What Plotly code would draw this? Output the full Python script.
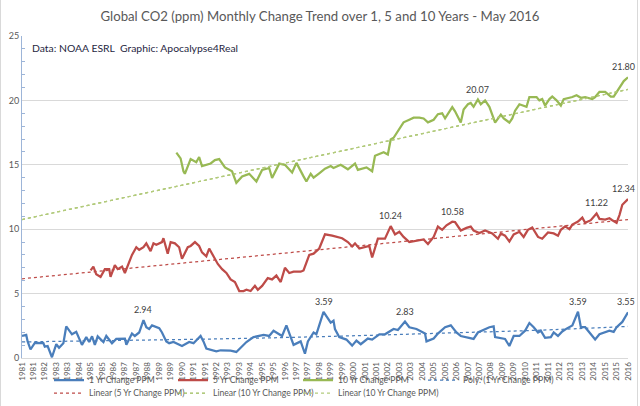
import pandas as pd
import plotly.graph_objects as go

# 1 Yr change (ppm)
one_yr_dates = ["1981-01", "1981-04", "1981-05", "1981-07", "1981-10", "1982-04", "1982-05", "1982-07",
                "1982-10", "1983-01", "1983-03", "1983-06", "1983-08", "1983-12", "1984-03", "1984-07",
                "1984-10", "1984-12", "1985-02", "1985-04", "1985-06", "1985-10", "1985-12", "1986-04",
                "1986-07", "1987-01", "1987-02", "1987-06", "1987-08", "1987-11", "1988-02", "1988-04",
                "1988-06", "1988-08", "1989-01", "1989-03", "1989-06", "1989-08", "1989-11", "1990-05",
                "1990-10", "1991-01", "1991-06", "1991-08", "1991-10", "1992-05", "1992-08", "1993-03",
                "1993-07", "1993-11", "1994-02", "1994-07", "1995-02", "1995-06", "1995-09", "1996-03",
                "1996-06", "1996-11", "1997-04", "1997-07", "1997-09", "1998-01", "1998-03", "1998-05",
                "1998-08", "1999-01", "1999-03", "1999-04", "1999-07", "1999-12", "2000-04", "2000-07",
                "2000-10", "2001-03", "2001-06", "2001-11", "2002-03", "2002-09", "2002-12", "2003-05",
                "2003-08", "2004-01", "2004-07", "2004-08", "2005-01", "2005-04", "2005-09", "2006-01",
                "2006-05", "2006-08", "2007-03", "2007-05", "2007-08", "2008-01", "2008-04", "2008-07",
                "2008-08", "2009-03", "2009-06", "2009-09", "2010-01", "2010-05", "2010-08", "2010-11",
                "2011-02", "2011-04", "2011-07", "2011-11", "2012-01", "2012-04", "2012-07", "2012-10",
                "2013-02", "2013-06", "2013-08", "2013-11", "2014-03", "2014-06", "2014-09", "2015-01",
                "2015-04", "2015-07", "2015-09", "2016-01", "2016-04", "2016-05"]
one_yr_ppm = [1.71, 1.79, 1.29, 0.66, 1.18, 1.15, 0.88, 0.93,
              0.06, 1.07, 0.80, 1.15, 2.45, 1.84, 2.03, 1.02,
              1.62, 1.24, 1.68, 1.02, 1.68, 1.24, 1.71, 1.15,
              1.48, 1.51, 1.02, 1.90, 1.71, 1.98, 2.94, 2.39,
              2.25, 2.53, 2.31, 1.98, 1.29, 1.15, 1.24, 0.93,
              1.24, 1.15, 1.71, 1.29, 0.74, 0.52, 0.60, 0.57,
              0.47, 0.88, 1.24, 1.62, 1.79, 1.71, 2.12, 1.71,
              2.53, 1.02, 1.29, 0.33, 1.29, 1.98, 1.84, 2.53,
              3.59, 2.75, 2.90, 2.25, 1.62, 1.43, 0.96, 1.35,
              1.07, 1.51, 1.43, 1.84, 1.84, 2.25, 2.17, 2.83,
              2.39, 2.25, 1.90, 1.29, 1.51, 1.90, 2.39, 2.53,
              1.98, 1.71, 1.57, 1.48, 1.98, 2.25, 2.39, 2.45,
              1.62, 1.48, 0.93, 1.71, 1.71, 2.12, 2.72, 2.39,
              1.98, 2.12, 1.57, 1.62, 1.98, 1.71, 2.06, 2.28,
              2.53, 3.59, 2.39, 2.39, 1.84, 1.43, 1.84, 1.98,
              2.12, 2.03, 2.39, 2.80, 3.30, 3.55]

# 5 Yr change (ppm)
five_yr_dates = ["1985-01", "1985-03", "1985-05", "1985-08", "1985-11", "1986-02", "1986-03", "1986-06",
                 "1986-08", "1986-11", "1987-01", "1987-06", "1987-09", "1987-11", "1988-02", "1988-04",
                 "1988-07", "1988-09", "1988-11", "1989-03", "1989-04", "1989-07", "1989-09", "1989-12",
                 "1990-03", "1990-05", "1990-09", "1990-11", "1991-02", "1991-05", "1991-07", "1991-10",
                 "1991-12", "1992-03", "1992-06", "1992-09", "1992-12", "1993-03", "1993-06", "1993-09",
                 "1993-12", "1994-02", "1994-05", "1994-08", "1994-10", "1995-01", "1995-05", "1995-08",
                 "1995-11", "1996-02", "1996-05", "1996-08", "1996-11", "1997-04", "1997-06", "1997-10",
                 "1998-01", "1998-05", "1998-09", "1999-02", "1999-06", "1999-09", "2000-01", "2000-04",
                 "2000-06", "2000-09", "2001-04", "2001-06", "2001-10", "2002-03", "2002-07", "2002-10",
                 "2003-01", "2003-04", "2003-08", "2004-03", "2004-06", "2004-09", "2005-01", "2005-04",
                 "2005-07", "2005-10", "2006-02", "2006-04", "2006-08", "2006-12", "2007-03", "2007-05",
                 "2007-09", "2008-01", "2008-06", "2008-10", "2008-12", "2009-03", "2009-06", "2009-09",
                 "2010-01", "2010-04", "2010-07", "2010-10", "2011-02", "2011-05", "2011-09", "2012-01",
                 "2012-04", "2012-06", "2012-09", "2012-12", "2013-02", "2013-06", "2013-09", "2013-11",
                 "2014-03", "2014-07", "2014-09", "2015-01", "2015-04", "2015-06", "2015-09", "2015-11",
                 "2016-01", "2016-05"]
five_yr_ppm = [6.80, 7.10, 6.50, 6.30, 6.90, 6.90, 6.30, 7.20,
               6.90, 7.10, 6.60, 8.00, 8.60, 8.40, 8.60, 8.90,
               8.30, 8.90, 8.80, 9.00, 9.30, 8.10, 9.00, 8.90,
               8.60, 7.70, 8.60, 8.70, 9.00, 8.70, 8.20, 7.90,
               8.50, 7.90, 7.30, 6.90, 6.60, 6.10, 5.90, 5.20,
               5.20, 5.30, 5.20, 5.60, 5.30, 5.60, 6.20, 6.10,
               6.40, 5.90, 7.00, 6.60, 6.70, 6.70, 6.80, 8.00,
               8.10, 8.50, 9.60, 9.50, 9.40, 9.30, 9.00, 8.66,
               8.90, 8.50, 8.70, 7.80, 9.26, 9.26, 10.24, 9.60,
               9.80, 9.40, 9.00, 9.10, 9.20, 8.85, 9.40, 10.20,
               9.95, 10.30, 10.58, 10.55, 9.90, 10.10, 10.20, 9.90,
               9.70, 9.90, 9.67, 9.26, 9.67, 9.50, 9.04, 9.60,
               9.80, 9.40, 9.95, 10.14, 9.40, 9.26, 9.75, 9.67,
               9.50, 9.95, 10.22, 10.00, 10.36, 10.60, 10.90, 10.50,
               10.70, 11.22, 10.80, 10.75, 10.85, 10.70, 10.50, 11.10,
               11.90, 12.34]

# 10 Yr change (ppm)
ten_yr_dates = ["1990-01", "1990-04", "1990-06", "1990-07", "1990-11", "1991-03", "1991-05", "1991-07",
                "1992-01", "1992-04", "1992-07", "1992-11", "1993-04", "1993-07", "1993-11", "1994-04",
                "1994-09", "1995-01", "1995-06", "1995-08", "1996-01", "1996-05", "1996-10", "1997-01",
                "1997-06", "1997-08", "1997-11", "1998-01", "1998-05", "1998-09", "1999-01", "1999-03",
                "1999-08", "2000-01", "2000-06", "2000-08", "2001-02", "2001-06", "2001-08", "2002-02",
                "2002-05", "2002-07", "2002-09", "2003-01", "2003-04", "2003-08", "2003-11", "2004-03",
                "2004-06", "2004-09", "2005-01", "2005-04", "2005-07", "2005-09", "2005-12", "2006-02",
                "2006-04", "2006-08", "2006-10", "2007-01", "2007-03", "2007-05", "2007-08", "2007-10",
                "2008-01", "2008-04", "2008-06", "2008-08", "2008-12", "2009-02", "2009-06", "2009-08",
                "2009-10", "2010-01", "2010-06", "2010-08", "2011-01", "2011-03", "2011-05", "2011-07",
                "2011-10", "2011-12", "2012-03", "2012-06", "2012-08", "2013-02", "2013-05", "2013-08",
                "2013-11", "2014-04", "2014-06", "2014-09", "2015-01", "2015-05", "2015-07", "2015-10",
                "2015-12", "2016-02", "2016-05"]
ten_yr_ppm = [15.94, 15.50, 14.50, 14.30, 15.44, 15.20, 15.60, 14.90,
              15.10, 15.36, 15.44, 14.80, 14.50, 13.60, 14.10, 14.30,
              13.70, 14.60, 14.75, 13.98, 15.09, 15.00, 14.40, 15.15,
              14.10, 13.70, 14.30, 14.00, 14.34, 14.70, 14.90, 14.75,
              15.00, 14.65, 15.10, 14.60, 14.80, 14.50, 15.70, 15.98,
              15.80, 16.96, 17.10, 17.78, 18.30, 18.50, 18.66, 18.66,
              18.60, 18.30, 18.50, 18.93, 19.00, 18.60, 19.10, 19.48,
              19.15, 18.28, 19.30, 19.70, 19.80, 19.50, 20.07, 19.70,
              20.00, 19.50, 18.90, 18.28, 18.90, 18.60, 18.28, 18.60,
              19.20, 19.70, 19.50, 20.26, 20.26, 20.00, 20.10, 19.60,
              20.10, 20.30, 20.00, 19.60, 20.10, 20.26, 20.40, 20.20,
              20.26, 20.10, 20.26, 20.67, 20.67, 20.30, 20.30, 20.80,
              21.13, 21.50, 21.80]

# trendlines
trend_dates = ["1981-01", "2016-05"]
five_yr_trend = [6.15, 10.75]
ten_yr_trend = [10.75, 20.85]
poly_dates = ["1981-01", "1986-01", "1991-01", "1996-01", "2001-01", "2006-01", "2011-01", "2016-05"]
poly_ppm = [1.25, 1.35, 1.45, 1.58, 1.75, 1.95, 2.15, 2.45]

# data labels shown on the chart
label_dates = ["1988-02", "1998-08", "2003-05", "2013-06", "2016-05",
               "2002-07", "2006-02", "2014-07", "2016-05",
               "2007-08", "2016-05"]
label_values = [2.94, 3.59, 2.83, 3.59, 3.55,
                10.24, 10.58, 11.22, 12.34,
                20.07, 21.80]

blue = "#4A7EBB"
red = "#BE4B48"
green = "#98B954"
grey = "#595959"
font = "Lato"

W, H = 640, 406
# plot area in pixels (for placing legends / border)
L, R, T, B = 22, 628, 36, 339
PW, PH = R - L, B - T
BOTTOM_MARGIN = 48  # the drawn axes end ~19 px above the nominal bottom margin

fig = go.Figure()
series = [
    ("1 Yr Change PPM", one_yr_dates, one_yr_ppm, dict(color=blue, width=2.25)),
    ("5 Yr Change PPM", five_yr_dates, five_yr_ppm, dict(color=red, width=2.25)),
    ("10 Yr Change PPM", ten_yr_dates, ten_yr_ppm, dict(color=green, width=2.25)),
    ("Poly. (1 Yr Change PPM)", poly_dates, poly_ppm, dict(color=blue, width=1.25, dash="dot", shape="spline")),
    ("Linear (5 Yr Change PPM)", trend_dates, five_yr_trend, dict(color=red, width=1.25, dash="dot")),
    ("Linear (10 Yr Change PPM)", trend_dates, ten_yr_trend, dict(color=green, width=1.25, dash="dot")),
    ("Linear (10 Yr Change PPM)", trend_dates, ten_yr_trend, dict(color="#B3CB7C", width=1.25, dash="dot")),
]

# Excel-like legend: 4 columns x 2 rows, one small legend per entry,
# placed in figure (container) coordinates
col_text_x = [101, 225, 350, 475]
row_y = [380, 393]
slots = [(0, 0), (1, 0), (2, 0), (3, 0), (0, 1), (1, 1), (2, 1)]

legends = {}
for i, (name, xs, ys, line) in enumerate(series):
    key = "legend" if i == 0 else f"legend{i + 1}"
    fig.add_trace(go.Scatter(x=xs, y=ys, mode="lines", name=name, line=line, legend=key))
    c, r = slots[i]
    legends[key] = dict(xref="container", x=(col_text_x[c] - 52) / W,
                        yref="container", y=1 - row_y[r] / H,
                        xanchor="left", yanchor="middle", orientation="h",
                        bgcolor="rgba(0,0,0,0)", itemwidth=30,
                        font=dict(family=font, size=8.6, color=grey))

for d, v in zip(label_dates, label_values):
    end = d == "2016-05"
    fig.add_annotation(x=d, y=v, text=f"{v:.2f}", showarrow=False, yanchor="bottom", yshift=3,
                       xanchor="right" if end else "center", xshift=9 if end else 0,
                       font=dict(family=font, size=9, color="#404040"))

fig.add_annotation(xref="paper", yref="paper", x=(30 - L) / PW, y=(B - 47) / PH,
                   xanchor="left", yanchor="middle",
                   text="Data: NOAA ESRL  Graphic: Apocalypse4Real", showarrow=False,
                   font=dict(family=font, size=10.4, color="#1F1F3F"))

# chart area border (left and right edges; vertical extent runs past the figure)
fig.add_shape(type="rect", xref="paper", yref="paper",
              x0=(0.5 - L) / PW, x1=(637.5 - L) / PW, y0=-3, y1=3,
              line=dict(color="#D9D9D9", width=1), fillcolor="rgba(0,0,0,0)", layer="below")

ticks = pd.date_range("1981-01-01", "2016-05-01", freq="8MS")

fig.update_layout(
    width=W, height=H, autosize=False,
    margin=dict(l=L, r=W - R, t=T, b=BOTTOM_MARGIN, autoexpand=False),
    paper_bgcolor="white", plot_bgcolor="white",
    title=dict(text="Global CO2 (ppm) Monthly Change Trend over 1, 5 and 10 Years - May 2016",
               x=0.5, xref="container", y=1 - 16 / H, yanchor="middle",
               font=dict(family=font, size=13.2, color=grey)),
    font=dict(family=font, color=grey),
    showlegend=True,
    xaxis=dict(type="date", range=["1981-01-01", "2016-05-01"], tickvals=ticks,
               ticktext=[str(t.year) for t in ticks], tickangle=-90, automargin=False,
               tickfont=dict(family=font, size=8, color=grey), showgrid=False,
               showline=True, linecolor="#D9D9D9", ticks="", zeroline=False),
    yaxis=dict(range=[0, 25], dtick=5, tickfont=dict(family=font, size=9, color=grey),
               automargin=False,
               gridcolor="#D9D9D9", showline=True, linecolor="#9DB5D8", zeroline=False,
               ticks="", minor=dict(dtick=1, ticks="inside", ticklen=3, tickcolor="#9DB5D8")),
    **legends,
)

# no page margin or scrollbars, so the chart sits at the window's top-left corner
fig.write_html("out.html", config={"displayModeBar": False, "responsive": False},
               post_script="document.body.style.margin='0';"
                           "document.documentElement.style.overflow='hidden';")
